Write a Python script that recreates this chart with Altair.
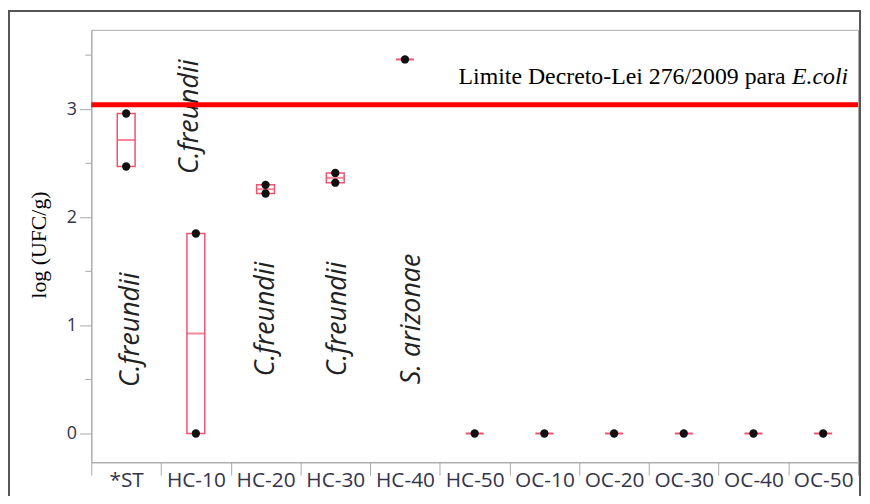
import altair as alt
import pandas as pd

# ---------------- data ----------------
categories = ["*ST", "HC-10", "HC-20", "HC-30", "HC-40", "HC-50",
              "OC-10", "OC-20", "OC-30", "OC-40", "OC-50"]
sample_values = [
    [2.96, 2.47],   # *ST
    [1.85, 0.00],   # HC-10
    [2.30, 2.22],   # HC-20
    [2.41, 2.32],   # HC-30
    [3.46],         # HC-40
    [0.00],         # HC-50
    [0.00],         # OC-10
    [0.00],         # OC-20
    [0.00],         # OC-30
    [0.00],         # OC-40
    [0.00],         # OC-50
]
species_groups = ["*ST", "HC-10", "HC-20", "HC-30", "HC-40"]
species_labels = ["C.freundii", "C.freundii", "C.freundii", "C.freundii", "S. arizonae"]
species_label_y = [0.96, 2.93, 1.06, 1.06, 1.06]
label_dy = [5, -6, 0, 3, 7]          # pixel nudges (style)
limit_value = [3.04]
limit_text = "Limite Decreto-Lei 276/2009 para"
limit_text_italic = "E.coli"
limit_text_y = [3.23]
y_title = "log (UFC/g)"
y_major = [0, 1, 2, 3]
y_minor = [0.5, 1.5, 2.5, 3.5]
y_domain = [-0.266, 3.734]

# ---------------- tables ----------------
points = pd.DataFrame(
    [(g, v) for g, vals in zip(categories, sample_values) for v in vals],
    columns=["group", "value"],
)
boxes = points.groupby("group", sort=False)["value"].agg(
    q1="min", q3="max", med="median").reset_index()
labels = pd.DataFrame({"group": species_groups, "label": species_labels,
                       "value": species_label_y})
minor = pd.DataFrame({"value": y_minor})
limit_df = pd.DataFrame({"value": limit_value})
limit_txt_df = pd.DataFrame({"value": limit_text_y})
one = pd.DataFrame({"k": [0]})

W, H = 773, 436
BOX = "#ef5470"
AX = "#a8a8a8"
LAB = "#34344a"

yscale = alt.Scale(domain=y_domain, nice=False, zero=False)
yaxis = alt.Axis(values=y_major, format="d", title=None, grid=False,
                 tickSize=12, labelPadding=3, labelFont="Open Sans",
                 labelFontSize=18, labelColor=LAB, tickColor=AX,
                 domainColor=AX)
xenc = alt.X("group:N", sort=categories,
             scale=alt.Scale(domain=categories, paddingInner=0, paddingOuter=0),
             axis=alt.Axis(title=None, labelAngle=0, tickBand="extent",
                           tickSize=13, labelPadding=-6, labelFont="Open Sans",
                           labelFontSize=21, labelColor=LAB, tickColor=AX,
                           domainColor=AX, grid=False, labelBaseline="top"))


def Y(field):
    return alt.Y(field, type="quantitative", scale=yscale, axis=yaxis)


box = alt.Chart(boxes).mark_bar(size=18, fillOpacity=0, stroke=BOX,
                                strokeWidth=1.5).encode(
    x=xenc, y=Y("q1"), y2="q3")
med = alt.Chart(boxes).mark_tick(size=18, thickness=2, color=BOX).encode(
    x=xenc, y=Y("med"))
dots = alt.Chart(points).mark_circle(size=70, color="#111", opacity=1).encode(
    x=xenc, y=Y("value"))
minor_ticks = alt.Chart(minor).mark_rule(color=AX, strokeWidth=1).encode(
    x=alt.value(-6), x2=alt.value(0), y=Y("value"))

species_layers = []
for i, g in enumerate(species_groups):
    species_layers.append(
        alt.Chart(labels[labels["group"] == g]).mark_text(
            angle=270, align="center", baseline="middle", font="Open Sans",
            fontStyle="italic", fontWeight="normal", fontSize=27,
            color="#222", dy=label_dy[i]
        ).encode(x=xenc, y=Y("value"), text="label:N"))

limit_rule = alt.Chart(limit_df).mark_rule(color="#ff0000", strokeWidth=5).encode(
    y=Y("value"))
limit_lbl = alt.Chart(limit_txt_df).mark_text(
    align="right", baseline="alphabetic", font="Liberation Serif",
    fontSize=24, fontWeight="normal", color="#000").encode(
    x=alt.value(700), y=Y("value"), text=alt.value(limit_text))
limit_lbl_it = alt.Chart(limit_txt_df).mark_text(
    align="right", baseline="alphabetic", font="Liberation Serif",
    fontSize=24, fontStyle="italic", fontWeight="normal", color="#000").encode(
    x=alt.value(763), y=Y("value"), text=alt.value(limit_text_italic))

ytitle = alt.Chart(one).mark_text(
    angle=270, align="center", baseline="middle", font="Liberation Serif",
    fontSize=22, fontWeight="normal", color="#000").encode(
    x=alt.value(-53), y=alt.value(H / 2 - 1), text=alt.value(y_title))

frame = alt.Chart(one).mark_rect(fillOpacity=0, stroke="#555",
                                 strokeWidth=2).encode(
    x=alt.value(-83), x2=alt.value(W + 2), y=alt.value(-19), y2=alt.value(H + 60))

chart = alt.layer(
    frame, minor_ticks, box, med, dots, *species_layers,
    limit_rule, limit_lbl, limit_lbl_it, ytitle
).properties(
    width=W, height=H,
    autosize=alt.AutoSizeParams(type="none"),
    padding={"left": 84, "top": 20, "right": 4, "bottom": 32},
).configure_view(stroke=AX, strokeWidth=1)

chart.save("out.html", embed_options={"renderer": "svg", "actions": False})
